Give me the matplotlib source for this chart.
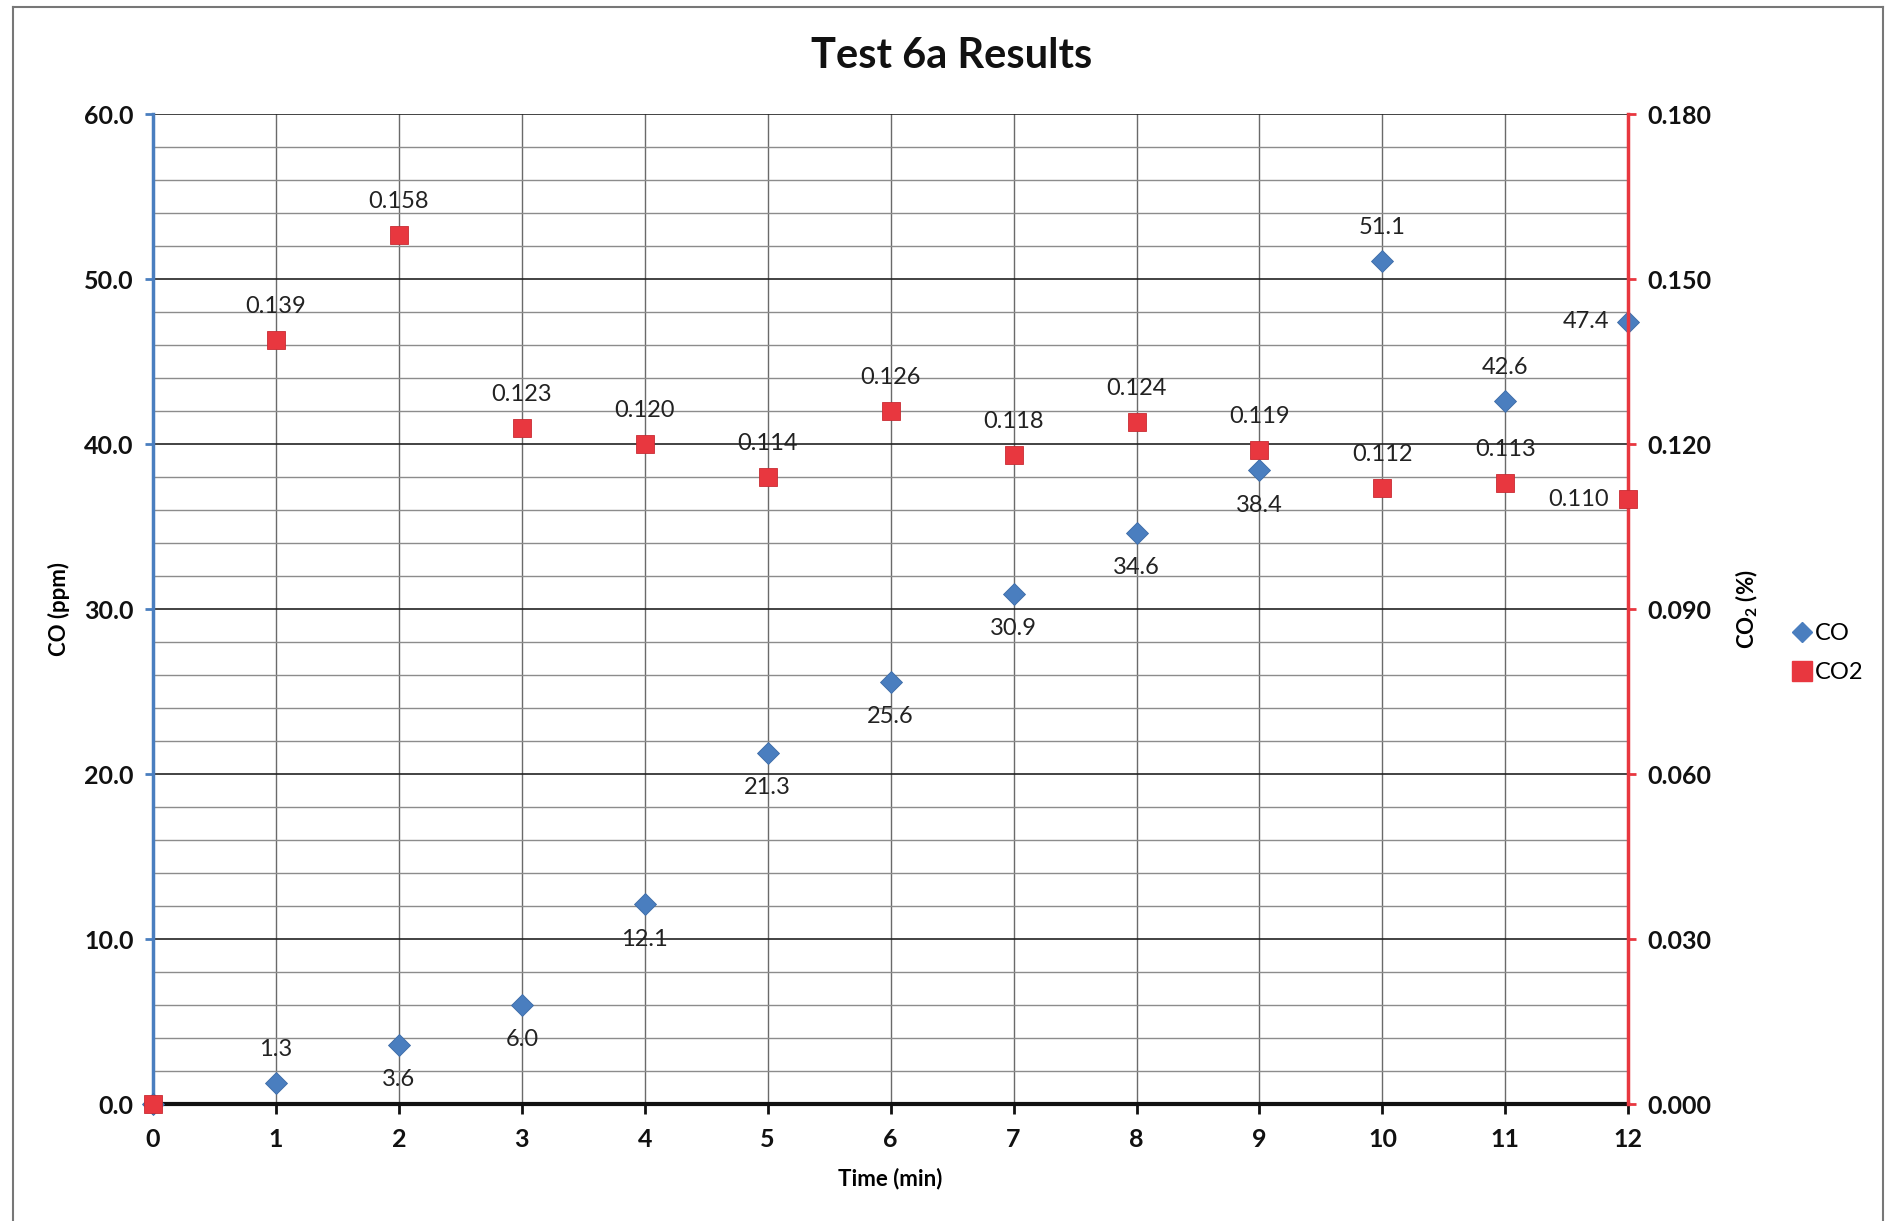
import numpy as np
import matplotlib.pyplot as plt
from matplotlib.lines import Line2D
from matplotlib.ticker import MultipleLocator, FormatStrFormatter

time_min = [0, 1, 2, 3, 4, 5, 6, 7, 8, 9, 10, 11, 12]
co_ppm = [0.0, 1.3, 3.6, 6.0, 12.1, 21.3, 25.6, 30.9, 34.6, 38.4, 51.1, 42.6, 47.4]
co2_pct = [0.0, 0.139, 0.158, 0.123, 0.120, 0.114, 0.126, 0.118, 0.124, 0.119, 0.112, 0.113, 0.110]

# where each data label goes relative to its point
co_label_pos = [None, "above", "below", "below", "below", "below", "below",
                "below", "below", "below", "above", "above", "left"]
co2_label_pos = [None, "above", "above", "above", "above", "above", "above",
                 "above", "above", "above", "above", "above", "left"]

blue = "#4a7ebf"
red = "#e8373f"
font = "Lato"

plt.rcParams['font.family'] = [font, 'DejaVu Sans']

fig = plt.figure(figsize=(18.89, 12.21), dpi=100)
ax = fig.add_axes([0.081, 0.0958, 0.781, 0.8108])
ax2 = ax.twinx()


def put_labels(axis, xs, ys, where, fmt):
    for x, y, w in zip(xs, ys, where):
        if w is None:
            continue
        if w == "above":
            off, ha = (0, 24), "center"
        elif w == "below":
            off, ha = (0, -25), "center"
        else:
            off, ha = (-14, 0), "right"
        axis.annotate(fmt % y, (x, y), xytext=off, textcoords="offset points",
                      ha=ha, va="center", fontsize=17, color="#222222")


ax.plot(time_min, co_ppm, linestyle="none", marker="D", ms=11,
        color=blue, mec="#3c6aa6", mew=0.6, zorder=3, clip_on=False)
ax2.plot(time_min, co2_pct, linestyle="none", marker="s", ms=13.5,
         color=red, mec="#c92c33", mew=0.6, zorder=4, clip_on=False)
put_labels(ax, time_min, co_ppm, co_label_pos, "%.1f")
put_labels(ax2, time_min, co2_pct, co2_label_pos, "%.3f")

ax.set_xlim(0, 12)
ax.set_ylim(0, 60)
ax2.set_ylim(0, 0.18)
ax.xaxis.set_major_locator(MultipleLocator(1))
ax.yaxis.set_major_locator(MultipleLocator(10))
ax.yaxis.set_minor_locator(MultipleLocator(2))
ax.yaxis.set_major_formatter(FormatStrFormatter("%.1f"))
ax2.yaxis.set_major_locator(MultipleLocator(0.03))
ax2.yaxis.set_major_formatter(FormatStrFormatter("%.3f"))

ax.grid(axis="y", which="major", color="#222222", lw=1.2)
ax.grid(axis="y", which="minor", color="#8c8c8c", lw=1.0)
ax.grid(axis="x", which="major", color="#6a6a6a", lw=1.0)
ax.set_axisbelow(True)

for a in (ax, ax2):
    a.spines["top"].set_visible(False)
ax.spines["right"].set_visible(False)
ax2.spines["left"].set_visible(False)
ax2.spines["bottom"].set_visible(False)
ax.spines["left"].set_color(blue)
ax.spines["left"].set_linewidth(2.5)
ax.spines["bottom"].set_color("#111111")
ax.spines["bottom"].set_linewidth(3)
ax2.spines["right"].set_color(red)
ax2.spines["right"].set_linewidth(2.5)

ax.tick_params(axis="y", which="major", colors=blue, length=6, width=2,
               labelcolor="#111111", labelsize=18, pad=8)
ax.tick_params(axis="y", which="minor", length=0)
ax.tick_params(axis="x", length=7, width=2, colors="#111111", labelsize=18, pad=10)
ax2.tick_params(axis="y", colors=red, length=6, width=2,
                labelcolor="#111111", labelsize=18, pad=8)
for lbl in ax.get_xticklabels() + ax.get_yticklabels() + ax2.get_yticklabels():
    lbl.set_fontweight("bold")

ax.set_xlabel("Time (min)", fontsize=16, fontweight="bold", labelpad=12)
ax.set_ylabel("CO (ppm)", fontsize=16, fontweight="bold", labelpad=10)
ax2.set_ylabel("CO$_\\mathregular{2}$ (%)", fontsize=16, fontweight="bold", labelpad=16)

fig.text(0.504, 0.954, "Test 6a Results", ha="center", va="center",
         fontsize=30, fontweight="bold", color="#111111")

handles = [
    Line2D([], [], linestyle="none", marker="D", ms=10, color=blue, label="CO"),
    Line2D([], [], linestyle="none", marker="s", ms=14, color=red, label="CO2"),
]
fig.legend(handles=handles, loc="center left", bbox_to_anchor=(0.945, 0.465),
           frameon=False, fontsize=17, handlelength=0.6, handletextpad=0.25,
           labelspacing=0.75, borderaxespad=0)

# outer chart frame
fig.add_artist(Line2D([0.007, 0.007], [0.0, 0.994], transform=fig.transFigure,
                      color="#777777", lw=1.5))
fig.add_artist(Line2D([0.007, 0.997], [0.994, 0.994], transform=fig.transFigure,
                      color="#777777", lw=1.5))
fig.add_artist(Line2D([0.997, 0.997], [0.0, 0.994], transform=fig.transFigure,
                      color="#777777", lw=1.5))

fig.savefig("out.png", dpi=100)
